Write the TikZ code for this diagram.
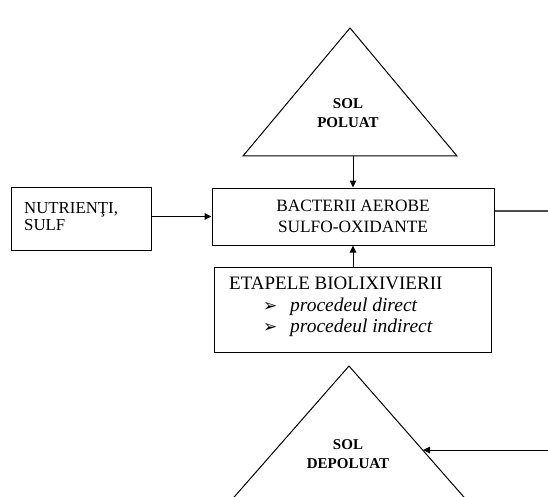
\documentclass[tikz,border=0pt]{standalone}
\usepackage{fontspec}
\setmainfont{Liberation Serif}
\newfontfamily\dejavu{DejaVu Sans}
\usetikzlibrary{arrows.meta,calc}
\begin{document}
\begin{tikzpicture}[x=1pt,y=-1pt,
  boxst/.style={draw,line width=1pt,inner sep=0pt},
  txt/.style={inner sep=0pt,font=\fontsize{17.3}{21}\selectfont},
  trit/.style={inner sep=0pt,align=center,font=\fontsize{15}{19}\selectfont\bfseries},
  arr/.style={line width=1pt,-{Triangle[length=7pt,width=6.5pt]}},
  ln/.style={line width=1pt}]
\useasboundingbox (0,0) rectangle (548,497);
\clip (0,0) rectangle (548,497);
% top triangle
\coordinate (t1a) at (350,28);
\coordinate (t1l) at (243,156);
\coordinate (t1r) at (457,156);
\coordinate (t1b) at (353,156);
\draw[ln] (t1a) -- (t1l) -- (t1r) -- cycle;
\node[trit] (t1txt) at (348,113) {SOL\\POLUAT};
% main box
\node[boxst,minimum width=282pt,minimum height=57pt] (main) at (353,216.5) {};
\node[txt,align=center] (maintxt) at (353,216.5) {BACTERII AEROBE\\SULFO-OXIDANTE};
% left box
\node[boxst,minimum width=140pt,minimum height=63pt] (left) at (81,218.5) {};
\node[txt,align=left,anchor=west,font=\fontsize{16.8}{17}\selectfont] (lefttxt) at (24,216.5) {NUTRIENŢI,\\SULF};
% etapele box
\node[boxst,minimum width=277pt,minimum height=85pt] (etap) at (352.5,309.5) {};
\node[txt,anchor=west,font=\fontsize{19}{21}\selectfont] (etap1) at (229,283) {ETAPELE BIOLIXIVIERII};
\node[txt,anchor=west,font=\fontsize{17}{17}\selectfont\dejavu] (b1) at (263,307) {➢};
\node[txt,anchor=west,font=\fontsize{19.5}{21}\selectfont\itshape] (e2) at (290,307) {procedeul direct};
\node[txt,anchor=west,font=\fontsize{17}{17}\selectfont\dejavu] (b2) at (263,328) {➢};
\node[txt,anchor=west,font=\fontsize{19.5}{21}\selectfont\itshape] (e3) at (290,328) {procedeul indirect};
% bottom triangle
\coordinate (t2a) at (349,366);
\coordinate (t2l) at (214,520);
\coordinate (t2r) at (484,520);
\coordinate (t2e) at (423,450);
\draw[ln] (t2a) -- (t2l) -- (t2r) -- cycle;
\node[trit] (t2txt) at (348,454) {SOL\\DEPOLUAT};
% connectors
\coordinate (rtop) at (548,211);
\coordinate (rbot) at (548,450);
\draw[arr] (t1b) -- (main.north);
\draw[arr] (left.east |- main.west) -- (main.west);
\draw[arr] (etap.north -| main.south) -- (main.south);
\draw[line width=1.4pt,draw=black!70] (main.east |- rtop) -- (rtop);
\draw[arr] (rbot) -- (t2e);
\end{tikzpicture}
\end{document}
